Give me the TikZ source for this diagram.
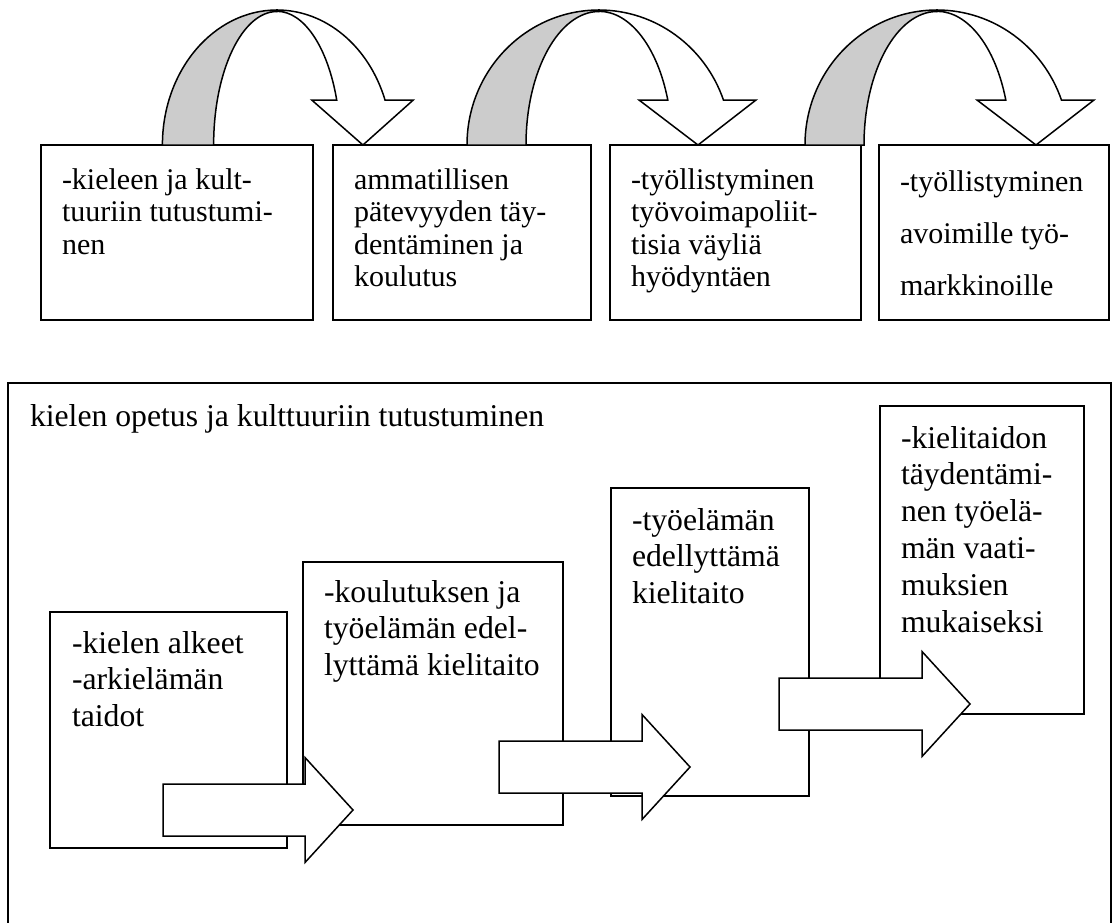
\documentclass[tikz,border=0pt]{standalone}
\usepackage{fontspec}
\setmainfont{Liberation Serif}
\newcommand\topfont{\fontsize{30}{32.5}\selectfont}
\newcommand\botfont{\fontsize{31.7}{36.8}\selectfont}
\newcommand\toptext[1]{\parbox[t]{500pt}{\raggedright\topfont #1}}
\newcommand\wideptext[1]{\parbox[t]{500pt}{\raggedright\fontsize{30}{52}\selectfont #1}}
\newcommand\bottext[1]{\parbox[t]{500pt}{\raggedright\botfont #1}}
\newcommand\boxnode[5]{\node[box, minimum width={#4pt-#2pt}, minimum height={#5pt-#3pt}] (#1) at (#2,#3) {};}
\newcommand\curvedarrow[2]{%
  \begin{scope}[shift={(#1,0)}, xscale=#2]
    \draw[fill=backgrey] (-132,145) arc[start angle=180, end angle=270, x radius=132, y radius=135]
      -- (0,11.5) arc[start angle=270, end angle=180, x radius=73, y radius=133.5] -- cycle;
    \draw[fill=white] (0,10) arc[start angle=270, end angle=340.53, x radius=132, y radius=135]
      -- (157,100) -- (99,145) -- (40,100) -- (68.8,100)
      arc[start angle=340.38, end angle=270, x radius=73, y radius=133.5] -- cycle;
  \end{scope}}
\newcommand\blockarrow[4]{%
  \draw[fill=white] (#1,#4-26) -- (#2,#4-26) -- (#2,#4-52.5) -- (#3,#4)
    -- (#2,#4+52.5) -- (#2,#4+26) -- (#1,#4+26) -- cycle;}
\definecolor{backgrey}{RGB}{204,204,204}
\begin{document}
\begin{tikzpicture}[x=1pt, y=-1pt, line width=1.5pt, line join=miter,
  box/.style={draw, fill=white, anchor=north west, inner sep=0pt, outer sep=0pt},
  txt/.style={anchor=base west, inner sep=0pt, outer sep=0pt}]
\useasboundingbox (0,0) rectangle (1114,922);
\clip (0,0) rectangle (1114,922);
\fill[white] (0,0) rectangle (1114,922);

% top row boxes
\boxnode{b1}{41}{145}{313}{320}
\boxnode{b2}{333}{145}{591}{320}
\boxnode{b3}{610}{145}{861}{320}
\boxnode{b4}{879}{145}{1109}{320}
\node[txt] (t1) at (62,189) {\toptext{-kieleen ja kult-\par tuuriin tutustumi-\par nen}};
\node[txt] (t2) at (354,189) {\toptext{ammatillisen\par pätevyyden täy-\par dentäminen ja\par koulutus}};
\node[txt] (t3) at (631,189) {\toptext{-työllistyminen\par työvoimapoliit-\par tisia väyliä\par hyödyntäen}};
\node[txt] (t4) at (900,191) {\wideptext{-työllistyminen\par avoimille työ-\par markkinoille}};

% curved arrows
\curvedarrow{277}{0.868}
\curvedarrow{599}{1}
\curvedarrow{937}{1}

% bottom frame
\node[box, minimum width=1103pt, minimum height=620pt] (frame) at (8,383) {};
\node[txt, font=\botfont] (title) at (30,426) {kielen opetus ja kulttuuriin tutustuminen};

\boxnode{bA}{50}{612}{287}{848}
\node[txt] (tA) at (72,653) {\bottext{-kielen alkeet\par -arkielämän\par taidot}};
\boxnode{bB}{303}{562}{563}{825}
\node[txt] (tB) at (324,602) {\bottext{-koulutuksen ja\par työelämän edel-\par lyttämä kielitaito}};
\blockarrow{163}{305}{353}{810}
\boxnode{bC}{611}{488}{809}{796}
\node[txt] (tC) at (632,530) {\bottext{-työelämän\par edellyttämä\par kielitaito}};
\blockarrow{499}{642}{690}{767}
\boxnode{bD}{880}{406}{1084}{714}
\node[txt] (tD) at (901,448) {\bottext{-kielitaidon\par täydentämi-\par nen työelä-\par män vaati-\par muksien\par mukaiseksi}};
\blockarrow{779}{922}{970}{704}
\end{tikzpicture}
\end{document}
